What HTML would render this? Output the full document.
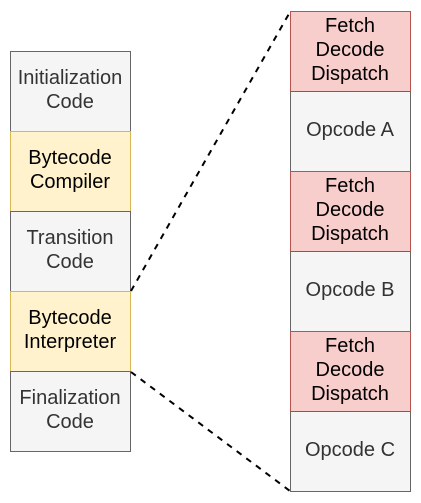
<!DOCTYPE html>
<html><head><meta charset="utf-8"><style>
html,body{margin:0;padding:0;background:#fff;}
svg{display:block;}
text{font-family:"Liberation Sans",Arial,sans-serif;font-size:20px;text-anchor:middle;}
</style></head><body>
<svg width="421" height="503" viewBox="0 0 421 503" xmlns="http://www.w3.org/2000/svg">
<g stroke-width="1">
<rect x="10.5" y="51.5" width="120" height="80" fill="#f5f5f5" stroke="#666"/>
<rect x="10.5" y="131.5" width="120" height="80" fill="#fff2cc" stroke="#d6b656"/>
<rect x="10.5" y="211.5" width="120" height="80" fill="#f5f5f5" stroke="#666"/>
<rect x="10.5" y="291.5" width="120" height="80" fill="#fff2cc" stroke="#d6b656"/>
<rect x="10.5" y="371.5" width="120" height="80" fill="#f5f5f5" stroke="#666"/>

<rect x="290.5" y="11.5" width="120" height="80" fill="#f8cecc" stroke="#b85450"/>
<rect x="290.5" y="91.5" width="120" height="80" fill="#f5f5f5" stroke="#666"/>
<rect x="290.5" y="171.5" width="120" height="80" fill="#f8cecc" stroke="#b85450"/>
<rect x="290.5" y="251.5" width="120" height="80" fill="#f5f5f5" stroke="#666"/>
<rect x="290.5" y="331.5" width="120" height="80" fill="#f8cecc" stroke="#b85450"/>
<rect x="290.5" y="411.5" width="120" height="80" fill="#f5f5f5" stroke="#666"/>
</g>
<g stroke="#000" stroke-width="2" stroke-dasharray="6 6" fill="none">
<line x1="131" y1="291" x2="290" y2="12"/>
<line x1="131" y1="372" x2="290" y2="491"/>
</g>
<g fill="#333">
<text x="70" y="84">Initialization</text><text x="70" y="108">Code</text>
<text x="70" y="244">Transition</text><text x="70" y="268">Code</text>
<text x="70" y="404">Finalization</text><text x="70" y="428">Code</text>
<text x="350" y="136">Opcode A</text>
<text x="350" y="296">Opcode B</text>
<text x="350" y="456">Opcode C</text>
</g>
<g fill="#000">
<text x="70" y="164">Bytecode</text><text x="70" y="188">Compiler</text>
<text x="70" y="324">Bytecode</text><text x="70" y="348">Interpreter</text>
<text x="350" y="32">Fetch</text><text x="350" y="56">Decode</text><text x="350" y="80">Dispatch</text>
<text x="350" y="192">Fetch</text><text x="350" y="216">Decode</text><text x="350" y="240">Dispatch</text>
<text x="350" y="352">Fetch</text><text x="350" y="376">Decode</text><text x="350" y="400">Dispatch</text>
</g>
</svg>
</body></html>
